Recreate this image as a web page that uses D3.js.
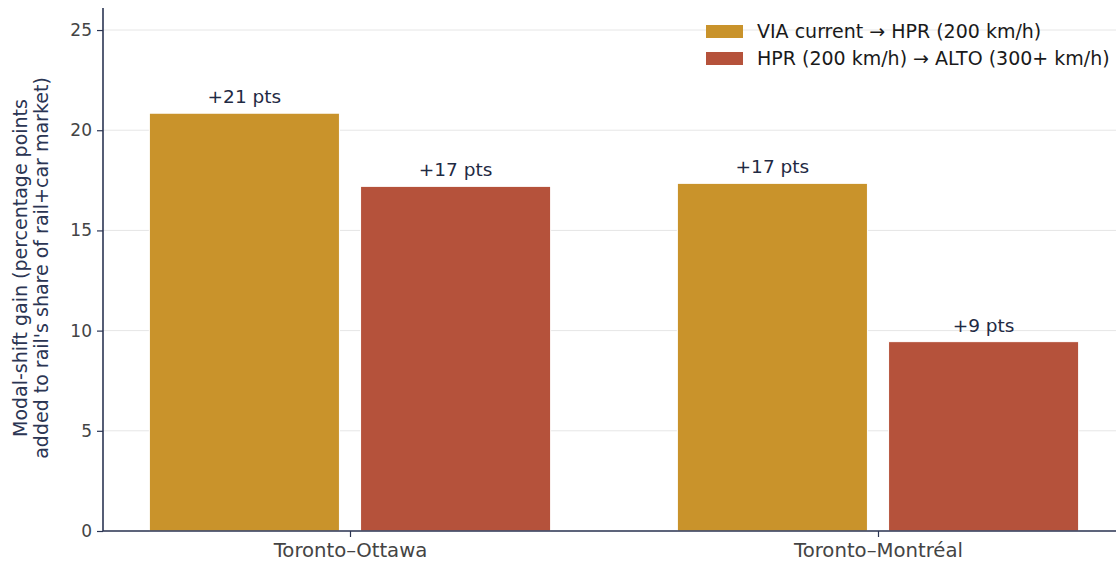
<!DOCTYPE html>
<html>
<head>
<meta charset="utf-8">
<script src="https://cdn.jsdelivr.net/npm/d3@7"></script>
<style>
  body { margin: 0; background: #fff; }
  svg { display: block; font-family: "DejaVu Sans", sans-serif; }
</style>
</head>
<body>
<svg id="chart" width="1116" height="563"></svg>
<script>
// Corridors and the two upgrade steps
const corridors = ["Toronto–Ottawa", "Toronto–Montréal"];
const seriesNames = ["VIA current → HPR (200 km/h)", "HPR (200 km/h) → ALTO (300+ km/h)"];
const viaToHpr = [20.85, 17.35];
const hprToAlto = [17.2, 9.45];
const yTicks = [0, 5, 10, 15, 20, 25];
const colors = ["#C9932B", "#B5523B"];

const svg = d3.select("#chart");
const W = 1116;
const plotLeft = 103, plotBottom = 531, plotTop = 8;

const y = d3.scaleLinear().domain([0, 26.1]).range([plotBottom, plotTop]);
const x = d3.scalePoint().domain(corridors).range([350, 878]);
const unit = 528; // pixels per category step
const inner = d3.scaleBand().domain(seriesNames)
  .range([-0.4 * unit, 0.4 * unit]).paddingInner(0.1).paddingOuter(0.05);

// Grid lines
svg.append("g").selectAll("line").data(yTicks).join("line")
  .attr("x1", plotLeft).attr("x2", W)
  .attr("y1", d => y(d)).attr("y2", d => y(d))
  .attr("stroke", "#e6e6e6").attr("stroke-width", 1);

// Bars
const rows = [];
corridors.forEach((c, i) => {
  rows.push({ c, s: seriesNames[0], v: viaToHpr[i], k: 0 });
  rows.push({ c, s: seriesNames[1], v: hprToAlto[i], k: 1 });
});

svg.append("g").selectAll("rect").data(rows).join("rect")
  .attr("x", d => x(d.c) + inner(d.s))
  .attr("width", inner.bandwidth())
  .attr("y", d => y(d.v))
  .attr("height", d => y(0) - y(d.v))
  .attr("fill", d => colors[d.k])
  .attr("stroke", "#fff").attr("stroke-width", 1);

// Value labels
svg.append("g").selectAll("text").data(rows).join("text")
  .attr("x", d => x(d.c) + inner(d.s) + inner.bandwidth() / 2)
  .attr("y", d => y(d.v) - 10)
  .attr("text-anchor", "middle")
  .attr("font-size", 18.5)
  .attr("fill", "#1f2a44")
  .text(d => "+" + Math.round(d.v) + " pts");

// Y axis
const yAxis = svg.append("g").attr("transform", `translate(${plotLeft},0)`)
  .call(d3.axisLeft(y).tickValues(yTicks).tickSize(6).tickPadding(5));
yAxis.select(".domain").remove();
yAxis.selectAll(".tick line").attr("stroke", "#2b3553").attr("stroke-width", 1.2);
yAxis.selectAll(".tick text").attr("font-size", 17).attr("fill", "#444")
  .attr("font-family", "DejaVu Sans, sans-serif");
svg.append("line").attr("x1", plotLeft).attr("x2", plotLeft).attr("y1", plotTop).attr("y2", plotBottom)
  .attr("stroke", "#2b3553").attr("stroke-width", 1.6);

// X axis
const xAxis = svg.append("g").attr("transform", `translate(0,${plotBottom})`)
  .call(d3.axisBottom(x).tickSize(6).tickPadding(6));
xAxis.select(".domain").remove();
xAxis.selectAll(".tick line").attr("stroke", "#2b3553").attr("stroke-width", 1.2);
xAxis.selectAll(".tick text").attr("font-size", 19.7).attr("fill", "#444")
  .attr("font-family", "DejaVu Sans, sans-serif");
svg.append("line").attr("x1", plotLeft).attr("x2", W).attr("y1", plotBottom).attr("y2", plotBottom)
  .attr("stroke", "#2b3553").attr("stroke-width", 1.6);

// Y axis title
const yt = svg.append("text")
  .attr("transform", `translate(27,268) rotate(-90)`)
  .attr("text-anchor", "middle")
  .attr("font-size", 19)
  .attr("fill", "#2b3553");
yt.append("tspan").attr("x", 0).attr("dy", 0).text("Modal-shift gain (percentage points");
yt.append("tspan").attr("x", 0).attr("dy", 21).text("added to rail's share of rail+car market)");

// Legend
const lg = svg.append("g").attr("transform", "translate(706,25)");
seriesNames.forEach((s, i) => {
  const g = lg.append("g").attr("transform", `translate(0,${i * 27})`);
  g.append("rect").attr("width", 37).attr("height", 13).attr("fill", colors[i]);
  g.append("text").attr("x", 51).attr("y", 13).attr("font-size", 19)
    .attr("fill", "#1a1a1a").text(s);
});
</script>
</body>
</html>
